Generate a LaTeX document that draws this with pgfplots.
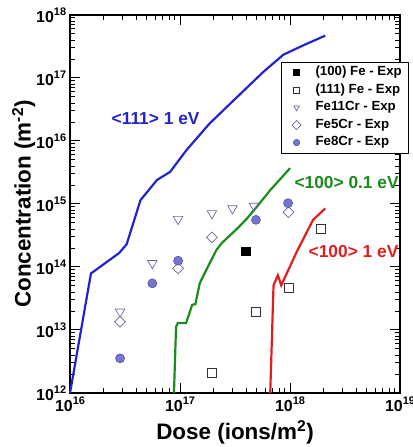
\documentclass[border=0pt]{standalone}
\usepackage{fontspec}
\setmainfont{Liberation Sans}
\usepackage{pgfplots}
\pgfplotsset{compat=1.18}

\definecolor{curveblue}{RGB}{35,35,205}
\definecolor{curvegreen}{RGB}{25,140,25}
\definecolor{curvered}{RGB}{225,30,30}
\definecolor{dotfill}{RGB}{118,118,205}
\definecolor{dotedge}{RGB}{80,80,175}
\definecolor{openedge}{RGB}{105,105,150}

% power-of-ten tick label
\newcommand{\pten}[1]{\fontsize{16}{16}\selectfont\bfseries 10\raisebox{0.45em}{\fontsize{11}{11}\selectfont\bfseries #1}}

\begin{document}
\begin{tikzpicture}
\begin{axis}[
  xmode=log, ymode=log, log basis x=10, log basis y=10,
  scale only axis, width=330bp, height=378bp,
  xmin=1e16, xmax=1e19, ymin=1e12, ymax=1e18,
  xticklabel={\pten{\pgfmathparse{int(round(\tick))}\pgfmathresult}},
  yticklabel={\pten{\pgfmathparse{int(round(\tick))}\pgfmathresult}},
  xtick pos=both, ytick pos=both,
  xtick align=inside, ytick align=inside,
  major tick length=10bp, minor tick length=5bp,
  every tick/.append style={black, line width=1pt},
  every axis/.append style={line width=1.2pt},
  clip=false,
  xlabel={Dose (ions/m\textsuperscript{2})},
  ylabel={Concentration (m\textsuperscript{-2})},
  label style={font=\fontsize{22.5}{24}\selectfont\bfseries},
  xlabel style={at={(axis description cs:0.5,-0.122)}, anchor=base},
  ylabel style={at={(axis description cs:-0.14,0.5)}, anchor=center},
  legend style={at={(rel axis cs:1.0258,0.8765)}, anchor=north east,
    draw=black, line width=0.6pt, fill=white,
    font=\fontsize{13.3}{15}\selectfont\bfseries,
    inner xsep=6.5bp, inner ysep=4.35bp, row sep=5bp, column sep=12bp,
    nodes={inner sep=0pt, text height=9.5bp, text depth=3bp}},
  legend cell align=left,
  legend image code/.code={%
    \path[draw=none, fill=none] (-8.5bp,-3bp) rectangle (7bp,3bp);
    \draw[#1, mark size=3.2bp] plot coordinates {(0bp,0bp)};},
]

% decade and sub-decade tick marks on all four sides, drawn beneath the legend
\pgfplotsextra{
  \foreach \d in {16,17,18}{
    \foreach \m in {1,...,9}{
      \pgfmathsetlengthmacro{\tlen}{(\m==1)*5bp+5bp}
      \draw[black, line width=1pt] (axis cs:\m e\d,1e12) -- ++(0pt,\tlen);
      \draw[black, line width=1pt] (axis cs:\m e\d,1e18) -- ++(0pt,-\tlen);
    }
  }
  \foreach \d in {12,...,17}{
    \foreach \m in {1,...,9}{
      \pgfmathsetlengthmacro{\tlen}{(\m==1)*5bp+5bp}
      \draw[black, line width=1pt] (axis cs:1e16,\m e\d) -- ++(\tlen,0pt);
      \draw[black, line width=1pt] (axis cs:1e19,\m e\d) -- ++(-\tlen,0pt);
    }
  }
}

% simulated cluster concentrations
\addplot[curveblue, line width=2.2pt, forget plot] coordinates {
  (1e16,1e12) (1.55e16,7.9e13) (2.79e16,1.66e14) (3.27e16,2.29e14)
  (4.37e16,1.15e15) (6.17e16,2.4e15) (8.13e16,3.24e15) (1.15e17,7.24e15)
  (1.86e17,1.9e16) (3.31e17,5.0e16) (5.75e17,1.26e17) (8.7e17,2.34e17)
  (1.32e18,3.3e17) (2.09e18,4.7e17)};
\addplot[curvegreen, line width=2.2pt, forget plot] coordinates {
  (8.81e16,1e12) (9.2e16,1.12e13) (9.55e16,1.29e13) (1.135e17,1.29e13)
  (1.29e17,2.51e13) (1.38e17,2.57e13) (1.51e17,5.5e13) (1.62e17,7.08e13)
  (2.14e17,1.86e14) (2.40e17,2.4e14) (3.31e17,4.07e14) (4.07e17,5.9e14)
  (5.01e17,9.1e14) (6.61e17,1.66e15) (1e18,3.7e15)};
\addplot[curvered, line width=2.2pt, forget plot] coordinates {
  (6.61e17,1e12) (7.08e17,5.1e13) (7.76e17,7.4e13) (8.32e17,5.1e13)
  (1.15e18,1.74e14) (1.62e18,5.6e14) (2.09e18,8.5e14)};

% experimental data
\addplot[only marks, mark=square*, mark size=4bp, mark options={fill=black, draw=black}]
  coordinates {(3.98e17,1.74e14)};
\addlegendentry{(100) Fe - Exp}
\addplot[only marks, mark=square, mark size=4.5bp, mark options={draw=black!80, fill=white, line width=0.6pt}]
  coordinates {(1.95e17,2.1e12) (4.9e17,1.95e13) (9.7e17,4.6e13) (1.9e18,4.1e14)};
\addlegendentry{(111) Fe - Exp}
\addplot[only marks, mark=triangle, mark size=5.5bp, mark options={rotate=180, draw=openedge, fill=white, line width=0.7pt}]
  coordinates {(2.85e16,1.95e13) (5.6e16,1.15e14) (9.6e16,5.75e14) (1.95e17,7.1e14) (3.0e17,8.5e14) (4.7e17,9.3e14)};
\addlegendentry{Fe11Cr - Exp}
\addplot[only marks, mark=square, mark size=3.8bp, mark options={rotate=45, draw=openedge, fill=white, line width=0.7pt}]
  coordinates {(2.85e16,1.35e13) (9.6e16,9.5e13) (1.95e17,2.95e14) (9.7e17,7.4e14)};
\addlegendentry{Fe5Cr - Exp}
\addplot[only marks, mark=*, mark size=4.5bp, mark options={fill=dotfill, draw=dotedge, line width=0.6pt}]
  coordinates {(2.85e16,3.55e12) (5.6e16,5.5e13) (9.6e16,1.26e14) (4.9e17,5.6e14) (9.6e17,1.03e15)};
\addlegendentry{Fe8Cr - Exp}

\node[text=curveblue, font=\fontsize{17.4}{19}\selectfont\bfseries] at (axis cs:6.0e16,2.3e16) {<111> 1 eV};
\node[text=curvegreen, font=\fontsize{17.4}{19}\selectfont\bfseries] at (axis cs:3.27e18,2.18e15) {<100> 0.1 eV};
\node[text=curvered, font=\fontsize{17.4}{19}\selectfont\bfseries] at (axis cs:3.78e18,1.75e14) {<100> 1 eV};
\end{axis}
\pgfresetboundingbox
\path[use as bounding box] (-70bp,-54bp) rectangle (343bp,393bp);
\end{tikzpicture}
\end{document}
